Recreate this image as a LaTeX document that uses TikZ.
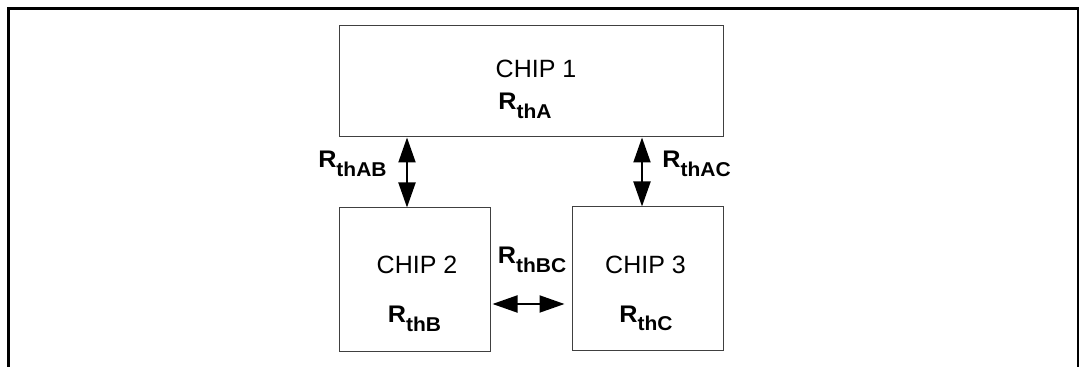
\documentclass[tikz,border=0pt]{standalone}
\usepackage{fontspec}
\usepackage{graphicx}
\setmainfont{Liberation Sans}
\usetikzlibrary{arrows.meta,positioning}

% bold thermal resistance label, R with a lowered subscript
\newcommand{\Rth}[1]{\scalebox{1.05}[1]{\bfseries\fontsize{12}{14}\selectfont R\raisebox{-4.2pt}{\fontsize{10}{12}\selectfont th#1}}}

\begin{document}
\begin{tikzpicture}[x=0.5pt,y=-0.5pt,
    chip/.style={draw=black!75,line width=0.5pt,inner sep=0pt},
    big chip/.style={chip,minimum width=192pt,minimum height=55.5pt},
    small chip/.style={chip,minimum width=75.5pt,minimum height=72pt},
    chip name/.style={font=\fontsize{12.5}{15}\selectfont,anchor=base,inner sep=0pt},
    res/.style={anchor=base,inner sep=0pt},
    heat/.style={{Triangle[width=8.5pt,length=12.5pt]}-{Triangle[width=8.5pt,length=12.5pt]},line width=1pt}]

    \useasboundingbox (0,0) rectangle (1082,367);

    % figure frame, open at the bottom
    \draw[line width=1.35pt] (8.5,380) |- (1078,8.5) -- (1078,380);

    \node[big chip] (chipA) at (531,81.5) {};
    \node[small chip] (chipB) [below=35pt of chipA.south west, anchor=north west] {};
    \node[small chip] (chipC) [below=34.5pt of chipA.south east, anchor=north east] {};

    \node[chip name] (nameA) at ([xshift=2.5pt,yshift=1.75pt]chipA.center) {CHIP 1};
    \node[res]       (resA)  at ([xshift=-3pt,yshift=-14.25pt]chipA.center) {\Rth{A}};
    \node[chip name] (nameB) at ([xshift=1.25pt,yshift=3pt]chipB.center) {CHIP 2};
    \node[res]       (resB)  at ([yshift=-21.5pt]chipB.center) {\Rth{B}};
    \node[chip name] (nameC) at ([xshift=-1pt,yshift=2.75pt]chipC.center) {CHIP 3};
    \node[res]       (resC)  at ([xshift=-0.75pt,yshift=-21.75pt]chipC.center) {\Rth{C}};

    % heat paths between the chips
    \draw[heat] ([xshift=-3.75pt]chipB.north) -- ([xshift=-3.75pt]chipB.north |- chipA.south);
    \draw[heat] ([xshift=-2.75pt]chipC.north) -- ([xshift=-2.75pt]chipC.north |- chipA.south);
    \draw[heat,shorten <=1pt,shorten >=3.5pt] ([yshift=-12pt]chipB.east) -- ([yshift=-12pt]chipB.east -| chipC.west);

    \node[res,anchor=base east] (resAB) at (387,168) {\Rth{AB}};
    \node[res,anchor=base west] (resAC) at (662,168) {\Rth{AC}};
    \node[res] (resBC) at (532,264) {\Rth{BC}};

\end{tikzpicture}
\end{document}
